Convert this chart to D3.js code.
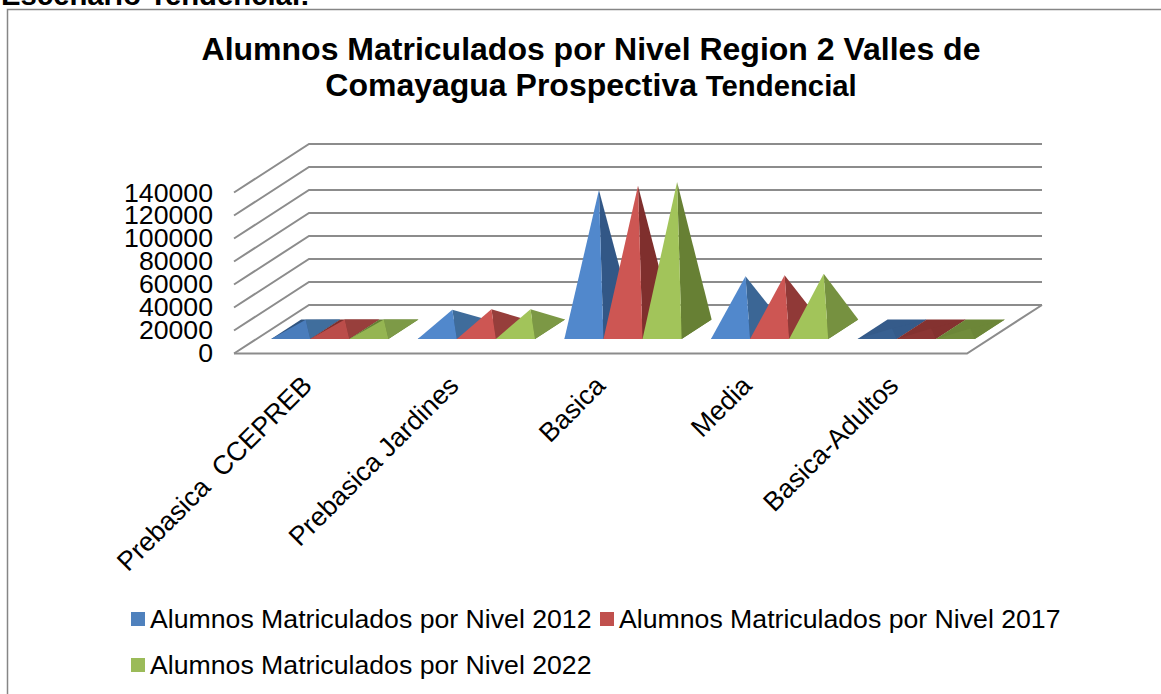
<!DOCTYPE html>
<html lang="es">
<head>
    <meta charset="UTF-8">
    <title>Alumnos Matriculados por Nivel</title>
    <script src="https://cdnjs.cloudflare.com/ajax/libs/d3/7.8.5/d3.min.js"></script>
    <style>
        body { margin: 0; background: #fff; overflow: hidden; }
        svg { display: block; font-family: 'Liberation Sans', Arial, sans-serif; }
    </style>
</head>
<body>
    <svg id="chart" width="1161" height="694"></svg>

    <script>
        const categories = ["Prebasica  CCEPREB", "Prebasica Jardines", "Basica", "Media", "Basica-Adultos"];
        const seriesNames = ["Alumnos Matriculados por Nivel 2012", "Alumnos Matriculados por Nivel 2017", "Alumnos Matriculados por Nivel 2022"];
        const values2012 = [8300, 17000, 121000, 46000, 700];
        const values2017 = [8400, 17300, 124800, 47000, 700];
        const values2022 = [8500, 17500, 128000, 48300, 700];
        const yTicks = [0, 20000, 40000, 60000, 80000, 100000, 120000, 140000];

        const seriesValues = [values2012, values2017, values2022];
        const frontColors = ["#5188cc", "#cd5653", "#a2c45a"];
        const sideLight = ["#41709f", "#9a403d", "#7f9c48"];
        const sideDark = ["#355b8a", "#843230", "#6c8638"];
        const legendColors = ["#4f81bd", "#c0504d", "#9bbb59"];

        const svg = d3.select("#chart");

        // caja 3d: frente abajo, fondo desplazado
        const depthX = 75, depthY = 48.5, floorY = 353.5;
        const x = d3.scaleBand().domain(d3.range(categories.length)).range([234, 967]).paddingInner(0.2).paddingOuter(0.1);
        const xSeries = d3.scaleBand().domain(d3.range(seriesNames.length)).range([0, x.bandwidth()]);
        const y = d3.scaleLinear().domain([0, 140000]).range([0, 161]);

        function project(px, depth, value) {
            return [px + depth * depthX, floorY - depth * depthY - y(value)];
        }

        // texto cortado de arriba
        svg.append("text").attr("x", 1).attr("y", 5)
            .attr("font-size", 29.3).attr("font-weight", "bold").text("Escenario Tendencial:");

        // el borde sigue mas alla de la derecha y de abajo
        svg.append("rect").attr("x", 7.5).attr("y", 9.5).attr("width", 1300).attr("height", 800)
            .attr("fill", "#fff").attr("stroke", "#868686").attr("stroke-width", 1.5);

        const title = svg.append("text").attr("text-anchor", "middle").attr("font-weight", "bold").attr("fill", "#000");
        title.append("tspan").attr("x", 591).attr("y", 60).attr("font-size", 32).text("Alumnos Matriculados por Nivel Region 2 Valles de");
        const line2 = title.append("tspan").attr("x", 591).attr("y", 96);
        line2.append("tspan").attr("font-size", 32).text("Comayagua Prospectiva ");
        line2.append("tspan").attr("font-size", 29.3).text("Tendencial");

        // rejilla
        const grid = svg.append("g").attr("fill", "none").attr("stroke", "#8c8c8c").attr("stroke-width", 2);
        yTicks.forEach(t => {
            const a = project(234, 0, t), b = project(234, 1, t), c = project(967, 1, t);
            grid.append("path").attr("d", d3.line()([a, b, c]));
        });
        grid.append("path").attr("d", d3.line()([project(234, 0, 0), project(967, 0, 0), project(967, 1, 0)]));

        // eje y
        const yAxis = d3.scaleLinear().domain([0, 140000]).range([floorY - 1, floorY - 161]);
        const axis = svg.append("g").attr("transform", "translate(218,0)")
            .call(d3.axisLeft(yAxis).tickValues(yTicks).tickFormat(d3.format("d")).tickSize(0).tickPadding(5));
        axis.select(".domain").remove();
        axis.selectAll("text").attr("font-size", 26.67).attr("fill", "#000").attr("font-family", "'Liberation Sans', Arial, sans-serif");

        // piramides, serie por serie para que la ultima quede encima
        categories.forEach((cat, i) => {
            seriesNames.forEach((name, s) => {
                const v = seriesValues[s][i];
                const x0 = x(i) + xSeries(s), x1 = x0 + xSeries.bandwidth();
                const fl = project(x0, 0.3, 0), fr = project(x1, 0.3, 0);
                const bl = project(x0, 0.7, 0), br = project(x1, 0.7, 0);
                const apex = project((x0 + x1) / 2, 0.5, v);
                const side = d3.interpolateRgb(sideLight[s], sideDark[s])(v / 100000);
                // las casi planas se ven oscuras por completo
                let front = frontColors[s];
                if (v < 2000) front = d3.interpolateRgb(sideDark[s], frontColors[s])(0.1);
                else if (v < 10000) front = d3.interpolateRgb(sideDark[s], frontColors[s])(0.75);
                svg.append("path").attr("d", d3.line()([bl, br, fr, fl]) + "Z").attr("fill", v < 2000 ? sideDark[s] : d3.color(sideDark[s]).darker(0.2));
                svg.append("path").attr("d", d3.line()([fr, br, apex]) + "Z").attr("fill", v < 2000 ? sideDark[s] : side);
                svg.append("path").attr("d", d3.line()([fl, fr, apex]) + "Z").attr("fill", front);
            });
        });

        // etiquetas de categoria
        categories.forEach((cat, i) => {
            const px = x(i) + x.bandwidth() / 2 - 7;
            svg.append("text").attr("transform", `translate(${px},374) rotate(-45)`)
                .attr("text-anchor", "end").attr("dy", "0.7em").attr("font-size", 26.67).attr("xml:space", "preserve").text(cat);
        });

        // leyenda
        const legendPos = [[131, 619], [600, 619], [131, 665]];
        seriesNames.forEach((name, s) => {
            const g = svg.append("g").attr("transform", `translate(${legendPos[s][0]},${legendPos[s][1]})`);
            g.append("rect").attr("y", -7).attr("width", 14).attr("height", 14).attr("fill", legendColors[s]);
            g.append("text").attr("x", 19).attr("y", 9).attr("font-size", 26.67).text(name);
        });
    </script>
</body>
</html>
